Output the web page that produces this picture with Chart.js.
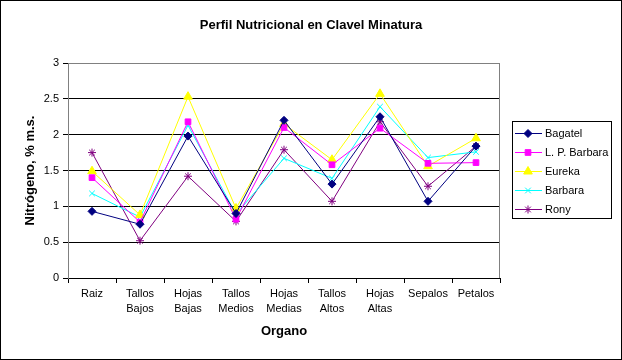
<!DOCTYPE html>
<html><head><meta charset="utf-8">
<script src="https://cdn.jsdelivr.net/npm/chart.js@4/dist/chart.umd.min.js"></script>
<style>
html,body{margin:0;padding:0;background:#fff;}
#wrap{position:relative;width:622px;height:360px;box-sizing:border-box;}
canvas{display:block;}
</style></head>
<body><div id="wrap"><canvas id="c" width="622" height="360"></canvas></div>
<script>
const categories = [["Raiz"],["Tallos","Bajos"],["Hojas","Bajas"],["Tallos","Medios"],["Hojas","Medias"],["Tallos","Altos"],["Hojas","Altas"],["Sepalos"],["Petalos"]];
const bagatel   = [0.93, 0.75, 1.98, 0.90, 2.20, 1.31, 2.25, 1.07, 1.84];
const lpBarbara = [1.40, 0.78, 2.18, 0.82, 2.10, 1.58, 2.09, 1.60, 1.61];
const eureka    = [1.49, 0.88, 2.53, 0.97, 2.15, 1.65, 2.57, 1.56, 1.95];
const barbara   = [1.18, 0.85, 2.13, 0.89, 1.67, 1.39, 2.39, 1.68, 1.76];
const rony      = [1.75, 0.52, 1.42, 0.79, 1.79, 1.07, 2.18, 1.28, 1.84];
const yTicks    = [0, 0.5, 1, 1.5, 2, 2.5, 3];
const chartTitle = "Perfil Nutricional en Clavel Minatura";
const xTitle = "Organo";
const yTitle = "Nitrógeno, % m.s.";

const FONT = "'Liberation Sans', Arial, sans-serif";
function ds(label, data, color, style, r){
  return {label, data, borderColor: color, backgroundColor: color, pointBorderColor: color,
    pointBackgroundColor: color, pointStyle: style, pointRadius: r, pointHoverRadius: r,
    borderWidth: 1, pointBorderWidth: 1, tension: 0};
}
const datasets = [
  ds("Bagatel", bagatel, "#000080", "rectRot", 4),
  ds("L. P. Barbara", lpBarbara, "#FF00FF", "rect", 4),
  ds("Eureka", eureka, "#FFFF00", "triangle", 5),
  ds("Barbara", barbara, "#00FFFF", "crossRot", 4),
  ds("Rony", rony, "#800080", "star", 4)
];

const decor = {
  id: 'decor',
  afterDraw(chart){
    const ctx = chart.ctx, a = chart.chartArea;
    ctx.save();
    ctx.strokeStyle = '#000'; ctx.lineWidth = 1;
    ctx.strokeRect(0.5, 0.5, 621, 359);
    ctx.strokeStyle = '#808080';
    ctx.beginPath(); ctx.moveTo(a.left, a.top + 0.5); ctx.lineTo(a.right, a.top + 0.5);
    ctx.moveTo(a.right - 0.5, a.top); ctx.lineTo(a.right - 0.5, a.bottom); ctx.stroke();
    ctx.fillStyle = '#000';
    ctx.textAlign = 'center'; ctx.textBaseline = 'middle';
    ctx.font = "bold 13px " + FONT;
    ctx.fillText(chartTitle, 311, 25);
    ctx.fillText(xTitle, (a.left + a.right) / 2, 331);
    ctx.save();
    ctx.translate(30, (a.top + a.bottom) / 2);
    ctx.rotate(-Math.PI / 2);
    ctx.fillText(yTitle, 0, 0);
    ctx.restore();
    // legend
    const lx = 512, ly = 121, lw = 99, lh = 97;
    ctx.fillStyle = '#fff';
    ctx.fillRect(lx, ly, lw, lh);
    ctx.strokeStyle = '#000';
    ctx.strokeRect(lx + 0.5, ly + 0.5, lw, lh);
    ctx.font = "11px " + FONT;
    ctx.textAlign = 'left';
    chart.data.datasets.forEach((d, i) => {
      const y = ly + 12 + i * 19;
      ctx.strokeStyle = d.borderColor; ctx.lineWidth = 1;
      ctx.beginPath(); ctx.moveTo(lx + 3, y + 0.5); ctx.lineTo(lx + 30, y + 0.5); ctx.stroke();
      ctx.save();
      ctx.fillStyle = d.backgroundColor; ctx.strokeStyle = d.borderColor;
      Chart.helpers.drawPoint(ctx, {pointStyle: d.pointStyle, radius: d.pointRadius, rotation: 0, borderWidth: 1}, lx + 16, y + 0.5);
      ctx.restore();
      ctx.fillStyle = '#000';
      ctx.fillText(d.label, lx + 33, y + 1);
    });
    ctx.restore();
  }
};

new Chart(document.getElementById('c'), {
  type: 'line',
  data: { labels: categories, datasets },
  options: {
    responsive: false, animation: false,
    layout: { padding: { top: 63, right: 122, left: 0, bottom: 0 } },
    plugins: { legend: { display: false }, title: { display: false }, tooltip: { enabled: false } },
    scales: {
      x: {
        offset: true,
        afterFit(s){ s.height = 82; },
        grid: { offset: true, drawOnChartArea: false, color: '#000', tickLength: 5, tickColor: '#000' },
        border: { color: '#000', width: 1 },
        ticks: { color: '#000', font: { family: FONT, size: 11, lineHeight: 1.4 }, maxRotation: 0, autoSkip: false, padding: 3 }
      },
      y: {
        min: 0, max: 3,
        afterFit(s){ s.width = 68; },
        afterBuildTicks(s){ s.ticks = yTicks.map(v => ({ value: v })); },
        grid: { color: '#000', tickLength: 5, tickColor: '#000', drawTicks: true },
        border: { color: '#808080', width: 1 },
        ticks: { color: '#000', font: { family: FONT, size: 11 }, padding: 4, callback: v => String(v) }
      }
    }
  },
  plugins: [decor]
});
</script></body></html>
